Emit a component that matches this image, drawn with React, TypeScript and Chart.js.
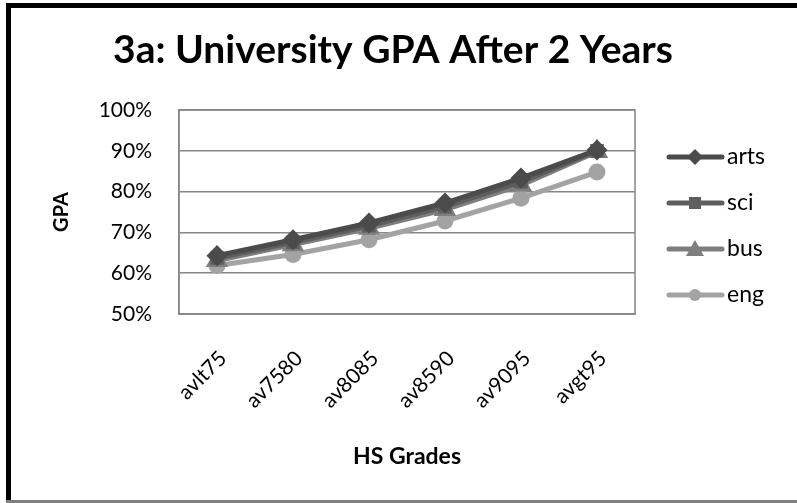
import React, { useEffect, useRef } from "react";
import { Chart, registerables } from "chart.js";

Chart.register(...registerables);

const categories = ["avlt75", "av7580", "av8085", "av8590", "av9095", "avgt95"];
const arts = [64.3, 68.2, 72.3, 77.2, 83.3, 90.2];
const sci = [63.7, 67.6, 71.6, 76.3, 82.4, 90.0];
const bus = [63.1, 67.0, 71.0, 75.6, 81.6, 89.8];
const eng = [61.9, 64.6, 68.2, 72.8, 78.4, 84.8];
const seriesNames = ["arts", "sci", "bus", "eng"];
const yTicks = [50, 60, 70, 80, 90, 100];

const FONT = "Lato, 'Open Sans', sans-serif";
const colors = ["#4b4b4b", "#5e5e5e", "#7e7e7e", "#a3a3a3"];
const pointStyles = ["rectRot", "rect", "triangle", "circle"];
const pointRadii = [7, 6, 8, 6];

const decorPlugin = {
  id: "decor",
  afterDraw(chart: any) {
    const { ctx, chartArea } = chart;
    ctx.save();
    // plot frame
    ctx.strokeStyle = "#868686";
    ctx.lineWidth = 1.5;
    ctx.strokeRect(chartArea.left, chartArea.top, chartArea.right - chartArea.left, chartArea.bottom - chartArea.top);
    // outer border
    ctx.fillStyle = "#000";
    ctx.fillRect(6, 3, 797 - 6, 5);
    ctx.fillRect(6, 3, 5, 503 - 3);
    ctx.fillStyle = "#808080";
    ctx.fillRect(6, 500, 797 - 6, 3);
    // title
    ctx.fillStyle = "#000";
    ctx.font = "bold 39px " + FONT;
    ctx.textAlign = "center";
    ctx.textBaseline = "middle";
    ctx.fillText("3a: University GPA After 2 Years", 393, 50);
    // legend
    const ys = [157, 203, 249, 295];
    chart.data.datasets.forEach((ds: any, i: number) => {
      const y = ys[i];
      ctx.strokeStyle = ds.borderColor;
      ctx.lineWidth = 5;
      ctx.lineCap = "round";
      ctx.beginPath();
      ctx.moveTo(669, y);
      ctx.lineTo(722, y);
      ctx.stroke();
      ctx.fillStyle = ds.pointBackgroundColor;
      ctx.beginPath();
      const cx = 695;
      const st = ds.pointStyle;
      if (st === "rectRot") {
        ctx.moveTo(cx, y - 8); ctx.lineTo(cx + 8, y); ctx.lineTo(cx, y + 8); ctx.lineTo(cx - 8, y);
      } else if (st === "rect") {
        ctx.rect(cx - 6, y - 6, 12, 12);
      } else if (st === "triangle") {
        ctx.moveTo(cx, y - 9); ctx.lineTo(cx + 9, y + 7); ctx.lineTo(cx - 9, y + 7);
      } else {
        ctx.arc(cx, y, 6, 0, Math.PI * 2);
      }
      ctx.closePath();
      ctx.fill();
      ctx.fillStyle = "#000";
      ctx.font = "23px " + FONT;
      ctx.textAlign = "left";
      ctx.textBaseline = "middle";
      ctx.fillText(ds.label, 727, y);
    });
    ctx.restore();
  },
};

export default function App() {
  const ref = useRef<HTMLCanvasElement>(null);
  useEffect(() => {
    document.body.style.margin = "0";
    const values = [arts, sci, bus, eng];
    const chart = new Chart(ref.current!, {
      type: "line",
      data: {
        labels: categories,
        datasets: values.map((v, i) => ({
          label: seriesNames[i],
          data: v,
          borderColor: colors[i],
          backgroundColor: colors[i],
          pointBackgroundColor: colors[i],
          pointBorderColor: colors[i],
          pointStyle: pointStyles[i] as any,
          pointRadius: pointRadii[i],
          borderWidth: 5,
          tension: 0,
        })),
      },
      options: {
        responsive: false,
        animation: false,
        layout: { padding: { left: 12, right: 162, top: 110, bottom: 0 } },
        plugins: { legend: { display: false }, tooltip: { enabled: false }, title: { display: false } },
        scales: {
          x: {
            offset: true,
            grid: { display: false, drawTicks: false },
            border: { display: true, color: "#868686", width: 1.5 },
            ticks: {
              color: "#000",
              font: { family: FONT, size: 21 },
              minRotation: 45,
              maxRotation: 45,
              padding: 32,
              labelOffset: 6,
            },
            title: {
              display: true,
              text: "HS Grades",
              color: "#000",
              font: { family: FONT, size: 23, weight: "bold" },
              padding: { top: 0, bottom: 33 },
            },
            afterFit: (s: any) => {
              s.height = 189;
            },
          },
          y: {
            min: 50,
            max: 100,
            afterBuildTicks: (s: any) => {
              s.ticks = yTicks.map((v) => ({ value: v }));
            },
            grid: { color: "#868686", lineWidth: 1.5, drawTicks: false },
            border: { display: true, color: "#868686", width: 1.5 },
            ticks: {
              color: "#000",
              font: { family: FONT, size: 21 },
              padding: 27,
              callback: (v: any) => v + "%",
            },
            title: {
              display: true,
              text: "GPA",
              color: "#000",
              font: { family: FONT, size: 20, weight: "bold" },
              padding: { top: 38, bottom: 0 },
            },
            afterFit: (s: any) => {
              s.width = 167;
            },
          },
        },
      },
      plugins: [decorPlugin],
    });
    return () => chart.destroy();
  }, []);
  return <canvas ref={ref} width={797} height={503} style={{ display: "block" }} />;
}
